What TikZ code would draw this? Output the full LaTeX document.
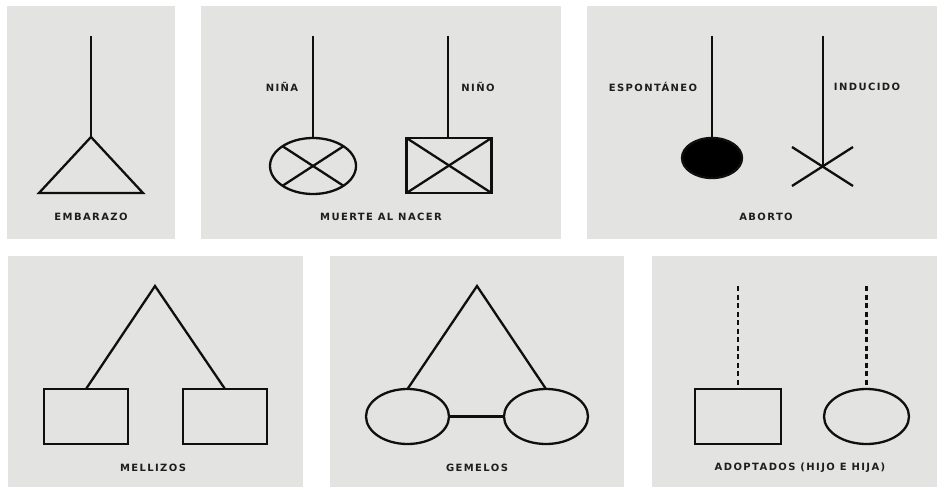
\documentclass[tikz,border=0pt]{standalone}
\usepackage{fontspec}
\newfontfamily\lblfont[LetterSpace=14]{DejaVu Sans}
\usetikzlibrary{shapes.geometric}
\definecolor{panelgray}{RGB}{227,227,226}
\definecolor{inkcol}{RGB}{15,15,15}
\definecolor{txtcol}{RGB}{30,30,30}
\tikzset{
  panel/.style={fill=panelgray, draw=none},
  sym/.style={draw=inkcol, line width=2.3pt},
  ln/.style={draw=inkcol, line width=2.3pt},
  dln/.style={draw=inkcol, line width=2.3pt, dash pattern=on 5pt off 3.5pt},
  ell/.style={ellipse, draw=inkcol, line width=2.3pt, inner sep=0pt, outer sep=0pt},
  box/.style={rectangle, draw=inkcol, line width=2.3pt, inner sep=0pt, outer sep=0pt},
  lbl/.style={text=txtcol, inner sep=0pt, font=\lblfont\bfseries\fontsize{10}{12}\selectfont}
}
\begin{document}
\begin{tikzpicture}[x=1pt,y=-1pt]
\useasboundingbox (0,0) rectangle (937,487);
\fill[white] (0,0) rectangle (937,487);
% panels
\fill[panel] (7,6) rectangle (175,239);
\fill[panel] (201,6) rectangle (561,239);
\fill[panel] (587,6) rectangle (937,239);
\fill[panel] (8,256) rectangle (303,487);
\fill[panel] (330,256) rectangle (624,487);
\fill[panel] (652,256) rectangle (937,487);

% Panel 1: embarazo
\coordinate (p1top) at (91,36);
\coordinate (p1apex) at (91,137);
\coordinate (p1bl) at (39,193);
\coordinate (p1br) at (143,193);
\draw[ln] (p1top) -- (p1apex);
\draw[sym, line join=miter] (p1apex) -- (p1bl) -- (p1br) -- cycle;
\node[lbl] (t1) at (91,217) {EMBARAZO};

% Panel 2: muerte al nacer
\coordinate (p2ltop) at (313,36);
\node[ell, minimum width=86pt, minimum height=56pt] (p2c) at (313,166) {};
\draw[ln] (p2ltop) -- (p2c.north);
\draw[ln] (p2c.33) -- (p2c.213);
\draw[ln] (p2c.147) -- (p2c.327);
\node[lbl] (t2a) at (282,87) {NIÑA};
\coordinate (p2rtop) at (448,36);
\node[box, minimum width=85pt, minimum height=55pt] (p2r) at (449,165.5) {};
\draw[ln] (p2rtop) -- (p2r.north -| p2rtop);
\draw[ln] (p2r.north west) -- (p2r.south east);
\draw[ln] (p2r.south west) -- (p2r.north east);
\node[lbl] (t2b) at (478,87) {NIÑO};
\node[lbl] (t2) at (381,217) {MUERTE AL NACER};

% Panel 3: aborto
\coordinate (p3ltop) at (712,36);
\node[ell, fill=black, minimum width=60pt, minimum height=40pt] (p3c) at (712,158) {};
\draw[ln] (p3ltop) -- (p3c.north);
\node[lbl] (t3a) at (653,87) {ESPONTÁNEO};
\coordinate (p3rtop) at (823,36);
\coordinate (p3x) at (823,166);
\coordinate (p3a) at (792,147);
\coordinate (p3b) at (853,186);
\coordinate (p3c1) at (792,186);
\coordinate (p3d) at (853,147);
\draw[ln] (p3rtop) -- (p3x);
\draw[ln] (p3a) -- (p3b);
\draw[ln] (p3c1) -- (p3d);
\node[lbl] (t3b) at (867,87) {INDUCIDO};
\node[lbl] (t3) at (766,217) {ABORTO};

% Panel 4: mellizos
\coordinate (p4apex) at (155,286);
\node[box, minimum width=84pt, minimum height=55pt] (p4l) at (86,416.5) {};
\node[box, minimum width=84pt, minimum height=55pt] (p4r) at (225,416.5) {};
\draw[ln, line join=miter] (p4l.north) -- (p4apex) -- (p4r.north);
\node[lbl] (t4) at (153,468) {MELLIZOS};

% Panel 5: gemelos
\coordinate (p5apex) at (477,286);
\node[ell, minimum width=83pt, minimum height=55pt] (p5l) at (407.5,416.5) {};
\node[ell, minimum width=84pt, minimum height=55pt] (p5r) at (546,416.5) {};
\draw[ln, line join=miter] (p5l.north) -- (p5apex) -- (p5r.north);
\draw[ln] (p5l.east) -- (p5r.west);
\node[lbl] (t5) at (477,468) {GEMELOS};

% Panel 6: adoptados
\coordinate (p6ltop) at (738,286);
\node[box, minimum width=86pt, minimum height=55pt] (p6l) at (738,416.5) {};
\draw[dln] (p6ltop) -- (p6l.north);
\coordinate (p6rtop) at (866.5,286);
\node[ell, minimum width=85pt, minimum height=55pt] (p6r) at (866.5,416.5) {};
\draw[dln] (p6rtop) -- (p6r.north);
\node[lbl] (t6) at (800,468) {ADOPTADOS (HIJO E HIJA)};
\end{tikzpicture}
\end{document}
